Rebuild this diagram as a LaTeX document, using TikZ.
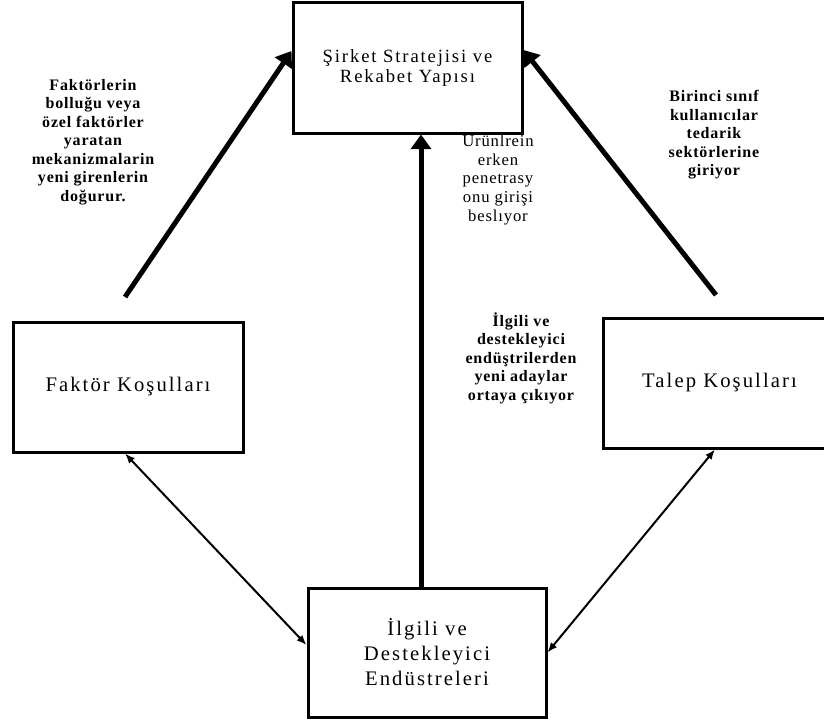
\documentclass[tikz,border=0pt]{standalone}
\usepackage{fontspec}
\setmainfont{Liberation Serif}
\newfontfamily\boxfont[LetterSpace=10]{Liberation Serif}
\newfontfamily\notefont[LetterSpace=5]{Liberation Serif}
\usetikzlibrary{arrows.meta}
\begin{document}
\begin{tikzpicture}[x=0.75pt,y=-0.75pt,
  box/.style={draw, line width=2.25pt, inner sep=0pt, align=center},
  boxtext/.style={font=\boxfont\fontsize{15.5pt}{18.75pt}\selectfont},
  note/.style={align=center, inner sep=0pt, font=\notefont\bfseries\fontsize{12pt}{13.9pt}\selectfont},
  lightnote/.style={note, font=\notefont\fontsize{12.5pt}{14.2pt}\selectfont},
  bigarrow/.style={line width=3.75pt, -{Triangle[length=11pt,width=15pt]}},
  dblarrow/.style={line width=1.5pt, {Latex[length=7.5pt,width=6pt]}-{Latex[length=7.5pt,width=6pt]}}
]
\useasboundingbox (0,0) rectangle (824,724);
% boxes
\node[box, minimum width=171.75pt, minimum height=97.5pt,
      font=\boxfont\fontsize{14pt}{15pt}\selectfont] (top) at (407.5,68)
      {\raisebox{-2pt}{\parbox{160pt}{\centering Şirket Stratejisi ve\\Rekabet Yapısı}}};
\node[box, boxtext, minimum width=172.5pt, minimum height=97.5pt] (lf) at (128,387) {Faktör Koşulları};
\node[box, boxtext, minimum width=174.75pt, minimum height=97.5pt] (rt) at (719.5,383) {Talep Koşulları};
\node[box, boxtext, minimum width=178.5pt, minimum height=96.75pt] (bot) at (427,652.5)
      {İlgili ve\\Destekleyici\\Endüstreleri};
% free ends
\coordinate (la) at (125,297);
\coordinate (ra) at (716,295);
% thick arrows
\draw[bigarrow] (la) -- ([yshift=12.75pt]top.west);
\draw[bigarrow] (ra) -- ([yshift=13.5pt]top.east);
\draw[bigarrow] ([xshift=-4.5pt]bot.north) -- ([xshift=-4.5pt]bot.north |- top.south);
% thin double arrows
\draw[dblarrow] ([xshift=-2.25pt]lf.south) -- ([yshift=5.6pt]bot.west);
\draw[dblarrow] (bot.east) -- ([xshift=-3.4pt]rt.south);
% annotations
\node[note] (n1) at (93,142) {Faktörlerin\\bolluğu veya\\özel faktörler\\yaratan\\mekanizmalarin\\yeni girenlerin\\doğurur.};
\node[lightnote] (n2) at (498,179) {Ürünlrein\\erken\\penetrasy\\onu girişi\\beslıyor};
\node[note] (n3) at (714,135) {Birinci sınıf\\kullanıcılar\\tedarik\\sektörlerine\\giriyor};
\node[note] (n4) at (521,358) {İlgili ve\\destekleyici\\endüştrilerden\\yeni adaylar\\ortaya çıkıyor};
\end{tikzpicture}
\end{document}
